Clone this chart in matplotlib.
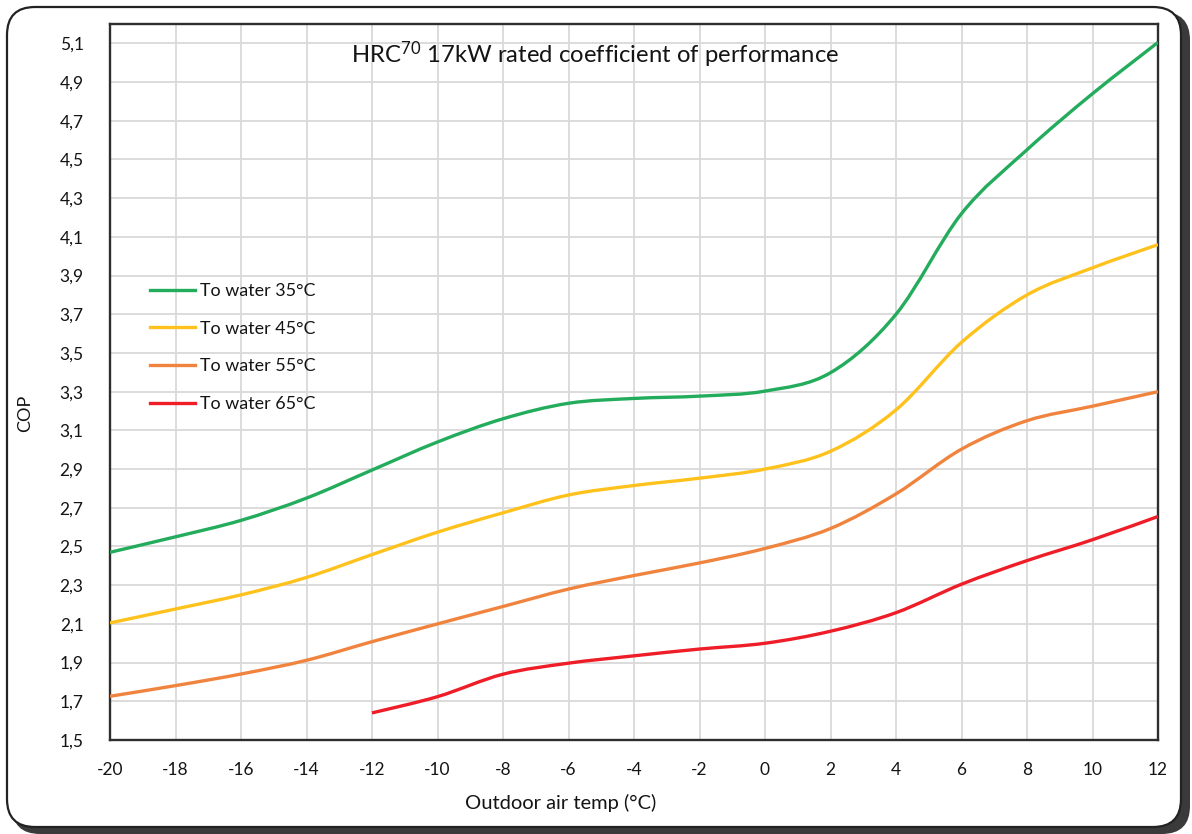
import matplotlib
matplotlib.use("Agg")
import matplotlib.pyplot as plt
import numpy as np
from matplotlib.path import Path
from matplotlib.patches import PathPatch, FancyBboxPatch
from matplotlib.lines import Line2D
from matplotlib.transforms import IdentityTransform

plt.rcParams['font.family'] = ['Lato', 'DejaVu Sans']
plt.rcParams['mathtext.fontset'] = 'custom'
plt.rcParams['mathtext.rm'] = 'Lato'
plt.rcParams['mathtext.default'] = 'regular'

# ---- data ----
temps = [-20, -18, -16, -14, -12, -10, -8, -6, -4, -2, 0, 2, 4, 6, 8, 10, 12]
cop_35 = [2.47, 2.55, 2.635, 2.75, 2.895, 3.04, 3.16, 3.24, 3.265, 3.277, 3.303, 3.398, 3.70, 4.22, 4.55, 4.84, 5.105]
cop_45 = [2.105, 2.177, 2.25, 2.34, 2.458, 2.574, 2.674, 2.766, 2.815, 2.853, 2.90, 2.992, 3.206, 3.555, 3.80, 3.94, 4.06]
cop_55 = [1.726, 1.781, 1.841, 1.912, 2.008, 2.10, 2.19, 2.28, 2.35, 2.415, 2.49, 2.593, 2.772, 3.003, 3.15, 3.225, 3.30]
cop_65 = [None, None, None, None, 1.64, 1.724, 1.84, 1.897, 1.935, 1.97, 2.00, 2.062, 2.158, 2.305, 2.427, 2.535, 2.655]

series_labels = ["To water 35°C", "To water 45°C", "To water 55°C", "To water 65°C"]
series_colors = ["#22ac5c", "#ffc21c", "#f0843e", "#ee1d27"]

x_ticks = [-20, -18, -16, -14, -12, -10, -8, -6, -4, -2, 0, 2, 4, 6, 8, 10, 12]
x_tick_labels = ["-20", "-18", "-16", "-14", "-12", "-10", "-8", "-6", "-4", "-2", "0", "2", "4", "6", "8", "10", "12"]
y_ticks = [1.5, 1.7, 1.9, 2.1, 2.3, 2.5, 2.7, 2.9, 3.1, 3.3, 3.5, 3.7, 3.9, 4.1, 4.3, 4.5, 4.7, 4.9, 5.1]
y_tick_labels = ["1,5", "1,7", "1,9", "2,1", "2,3", "2,5", "2,7", "2,9", "3,1", "3,3", "3,5", "3,7", "3,9", "4,1", "4,3", "4,5", "4,7", "4,9", "5,1"]

title = "HRC$^{70}$ 17kW rated coefficient of performance"
x_label = "Outdoor air temp (°C)"
y_label = "COP"

TXT = '#141414'


def smooth_path(xs, ys):
    """Excel-style smoothed line: cubic Bezier segments through the data points."""
    pts = [(x, y) for x, y in zip(xs, ys) if y is not None]
    pts = np.array(pts, dtype=float)
    n = len(pts)
    verts = [tuple(pts[0])]
    codes = [Path.MOVETO]
    for i in range(n - 1):
        p0 = pts[i - 1] if i > 0 else pts[i]
        p1 = pts[i]
        p2 = pts[i + 1]
        p3 = pts[i + 2] if i + 2 < n else pts[i + 1]
        c1 = p1 + (p2 - p0) / 6.0
        c2 = p2 - (p3 - p1) / 6.0
        verts += [tuple(c1), tuple(c2), tuple(p2)]
        codes += [Path.CURVE4] * 3
    return Path(verts, codes)


W, H = 1192, 834
fig = plt.figure(figsize=(W / 100, H / 100), dpi=100)
fig.patch.set_facecolor('white')

# rounded frame with shadow (pixel coordinates)
shadow = FancyBboxPatch((12, 0), 1178, 822, boxstyle="round,pad=0,rounding_size=28",
                        transform=IdentityTransform(), facecolor='#3a3a3a', edgecolor='none', zorder=-3)
frame = FancyBboxPatch((7, 7), 1174, 820, boxstyle="round,pad=0,rounding_size=28",
                       transform=IdentityTransform(), facecolor='white', edgecolor='#222222',
                       linewidth=1.6, zorder=-2)
fig.patches.extend([shadow, frame])

ax = fig.add_axes([110 / W, 1 - 740 / H, 1048 / W, 716 / H])
ax.set_facecolor('white')
ax.set_xlim(-20, 12)
ax.set_ylim(1.5, 5.2)
ax.set_xticks(x_ticks)
ax.set_xticklabels(x_tick_labels)
ax.set_yticks(y_ticks)
ax.set_yticklabels(y_tick_labels)
ax.tick_params(axis='both', length=0, labelsize=12.5, colors=TXT)
ax.tick_params(axis='x', pad=16)
ax.tick_params(axis='y', pad=19)
ax.grid(True, color='#d9d9d9', linewidth=1.3)
ax.set_axisbelow(True)
for s in ax.spines.values():
    s.set_color('#2e2e2e')
    s.set_linewidth(1.7)

handles = []
for ys, col, lab in zip([cop_35, cop_45, cop_55, cop_65], series_colors, series_labels):
    patch = PathPatch(smooth_path(temps, ys), fill=False, edgecolor=col, linewidth=2.4,
                      capstyle='butt', joinstyle='round', zorder=3)
    ax.add_patch(patch)
    handles.append(Line2D([], [], color=col, linewidth=2.4, label=lab))

leg = ax.legend(handles=handles, loc='upper left', bbox_to_anchor=(40 / 1048, 1 - 259 / 716),
                frameon=False, fontsize=12.9, handlelength=2.5, handletextpad=0.28,
                labelspacing=1.21, borderpad=0, borderaxespad=0)
for t in leg.get_texts():
    t.set_color(TXT)

ax.text(0.4625, 1 - (55 - 24) / 716, title, transform=ax.transAxes, ha='center', va='center',
        fontsize=17.2, color=TXT)

fig.text(561 / W, 1 - 803 / H, x_label, ha='center', va='center', fontsize=14.5, color=TXT)
fig.text(25 / W, 1 - 413 / H, y_label, ha='center', va='center', rotation=90, fontsize=13, color=TXT)

fig.savefig("out.png", dpi=100, facecolor='white')
